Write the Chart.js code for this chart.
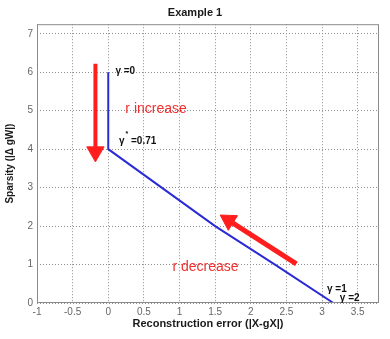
<!DOCTYPE html>
<html>
<head>
<meta charset="utf-8">
<script src="https://cdn.jsdelivr.net/npm/chart.js@4.4.1/dist/chart.umd.min.js"></script>
<style>
  html, body { margin: 0; padding: 0; background: #fff; }
  #wrap { width: 390px; height: 339px; }
</style>
</head>
<body>
<div id="wrap"><canvas id="example-1"></canvas></div>
<script>
/* path of the solution: reconstruction error vs sparsity */
const errorValues = [0, 0, 0.75, 1.5, 2.34, 3.16];
const sparsityValues = [6, 4, 3, 2, 1, 0];

/* the two red arrows (tail, then head) */
const downArrowX = [-0.18, -0.18];
const downArrowY = [6.22, 3.93];
const upArrowX = [2.64, 1.69];
const upArrowY = [1.02, 2.15];

const xMin = -1, xMax = 3.8, xStep = 0.5;
const yMin = 0, yMax = 7.25, yStep = 1;

/* text put next to the curve, in data units */
const notes = [
    { text: 'γ', sup: '', tail: ' =0', x: 0.1, y: 6.02, color: '#111', font: 'bold 10px "Liberation Sans"' },
    { text: 'γ', sup: '*', tail: ' =0.71', x: 0.15, y: 4.2, color: '#111', font: 'bold 10px "Liberation Sans"' },
    { text: 'r increase', sup: '', tail: '', x: 0.24, y: 5.05, color: '#f03030', font: '14px "Liberation Sans"' },
    { text: 'r decrease', sup: '', tail: '', x: 0.9, y: 0.92, color: '#f03030', font: '14px "Liberation Sans"' },
    { text: 'γ', sup: '', tail: ' =1', x: 3.07, y: 0.37, color: '#111', font: 'bold 10px "Liberation Sans"' },
    { text: 'γ', sup: '', tail: ' =2', x: 3.25, y: 0.13, color: '#111', font: 'bold 10px "Liberation Sans"' }
];

const toPoints = (xs, ys) => xs.map((x, i) => ({ x: x, y: ys[i] }));

// box round the plot + the text notes
const boxAndNotes = {
    id: 'boxAndNotes',
    afterDatasetsDraw(chart) {
        const ctx = chart.ctx;
        const a = chart.chartArea;
        const sx = chart.scales.x, sy = chart.scales.y;
        ctx.save();
        ctx.strokeStyle = '#8a8a8a';
        ctx.lineWidth = 1;
        ctx.strokeRect(a.left + 0.5, a.top + 0.5, a.right - a.left - 1, a.bottom - a.top - 1);
        ctx.textBaseline = 'middle';
        ctx.textAlign = 'left';
        notes.forEach(n => {
            let px = sx.getPixelForValue(n.x);
            const py = sy.getPixelForValue(n.y);
            ctx.fillStyle = n.color;
            ctx.font = n.font;
            ctx.fillText(n.text, px, py);
            px += ctx.measureText(n.text).width;
            if (n.sup) {
                ctx.font = 'bold 7px "Liberation Sans"';
                ctx.fillText(n.sup, px + 1, py - 7);
                px += ctx.measureText(n.sup).width + 1;
                ctx.font = n.font;
            }
            if (n.tail) ctx.fillText(n.tail, px, py);
        });
        ctx.restore();
    }
};

const arrowStyle = (rot) => ({
    type: 'line',
    borderColor: '#ff1e1e',
    borderWidth: 4,
    pointRadius: [0, 10],
    pointStyle: 'triangle',
    rotation: [0, rot],
    pointBackgroundColor: '#ff1e1e',
    pointBorderColor: '#ff1e1e',
    pointBorderWidth: 1,
    borderCapStyle: 'butt'
});

const plainTick = (value) => String(value);

const ctx_example = document.getElementById('example-1').getContext('2d');
const pathChart = new Chart(ctx_example, {
    type: 'line',
    data: {
        datasets: [{
            label: 'path',
            data: toPoints(errorValues, sparsityValues),
            borderColor: '#2b2bd6',
            borderWidth: 2,
            pointRadius: 0,
            tension: 0
        },
        Object.assign({ label: 'down', data: toPoints(downArrowX, downArrowY) }, arrowStyle(180)),
        Object.assign({ label: 'up', data: toPoints(upArrowX, upArrowY) }, arrowStyle(-58), { borderWidth: 5 })
        ]
    },
    options: {
        responsive: true,
        maintainAspectRatio: false,
        animation: false,
        layout: { padding: 0 },
        plugins: {
            legend: { display: false },
            tooltip: { enabled: false },
            title: {
                display: true,
                text: 'Example 1',
                color: '#1a1a1a',
                font: { family: 'Liberation Sans', size: 11, weight: 'bold' },
                padding: { top: 6, bottom: 5 }
            }
        },
        scales: {
            x: {
                type: 'linear',
                min: xMin,
                max: xMax,
                ticks: {
                    stepSize: xStep,
                    includeBounds: false,
                    color: '#666',
                    padding: 3,
                    maxRotation: 0,
                    callback: plainTick,
                    font: { family: 'Liberation Sans', size: 10 }
                },
                grid: { color: '#8f8f8f', drawTicks: false },
                border: { display: false, dash: [1, 2] },
                title: {
                    display: true,
                    text: 'Reconstruction error (|X-gX|)',
                    color: '#1a1a1a',
                    font: { family: 'Liberation Sans', size: 11, weight: 'bold' },
                    padding: { top: 0, bottom: 8 }
                },
                afterFit(scale) { scale.height = 36; }
            },
            y: {
                min: yMin,
                max: yMax,
                ticks: {
                    stepSize: yStep,
                    includeBounds: false,
                    color: '#666',
                    padding: 4,
                    callback: plainTick,
                    font: { family: 'Liberation Sans', size: 10 }
                },
                grid: { color: '#8f8f8f', drawTicks: false },
                border: { display: false, dash: [1, 2] },
                title: {
                    display: true,
                    text: 'Sparsity (|Δ gW|)',
                    color: '#1a1a1a',
                    font: { family: 'Liberation Sans', size: 10, weight: 'bold' },
                    padding: { top: 4, bottom: 0 }
                },
                afterFit(scale) { scale.width = 37; }
            }
        }
    },
    plugins: [boxAndNotes]
});
</script>
</body>
</html>
